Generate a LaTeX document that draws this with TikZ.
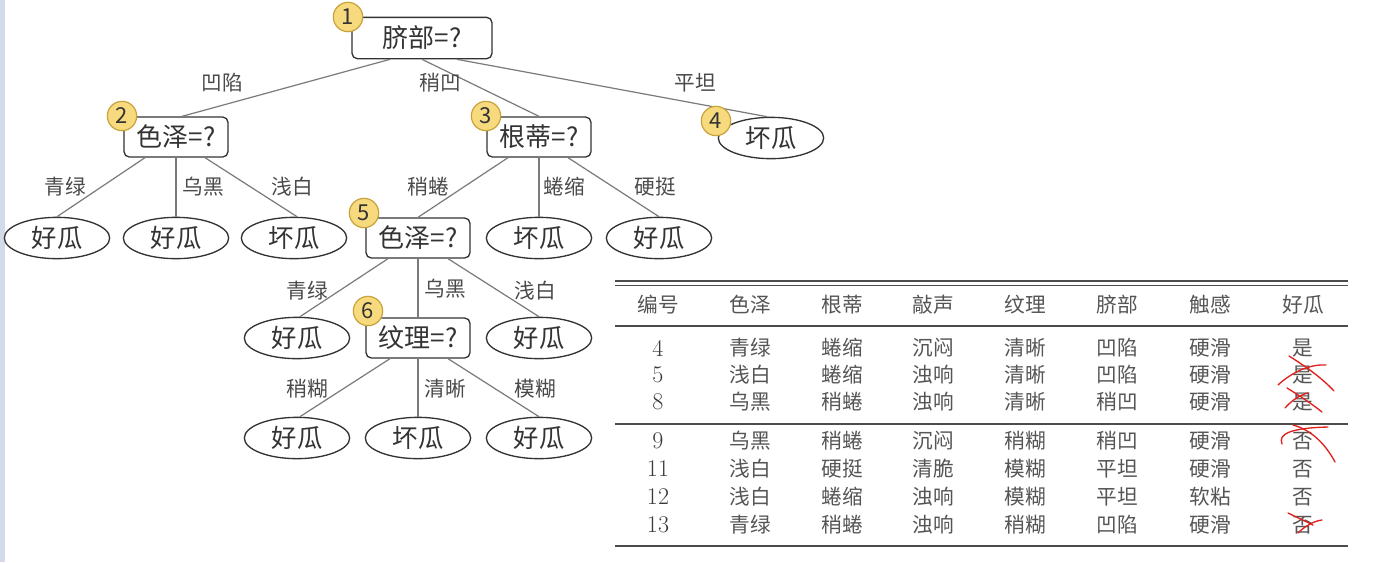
\documentclass[tikz,border=0pt]{standalone}
\usepackage{fontspec}
\newfontfamily\cjk{Noto Sans CJK SC}
\usetikzlibrary{shapes.geometric,calc}
\definecolor{badgefill}{HTML}{F7DA7E}
\definecolor{badgeedge}{HTML}{C8A23A}
\definecolor{edgegray}{HTML}{7A7A7A}
\definecolor{inkdark}{HTML}{333333}
\definecolor{labgray}{HTML}{4A4A4A}
\definecolor{tabgray}{HTML}{555555}
\definecolor{numgray}{HTML}{3A3A3A}
\definecolor{stripblue}{HTML}{D3DBE8}
\definecolor{markred}{HTML}{E0201C}
\begin{document}
\begin{tikzpicture}[x=0.75pt,y=-0.75pt,
  qbox/.style={draw=inkdark,line width=1pt,rounded corners=4pt,fill=white,minimum width=78pt,minimum height=30pt,inner sep=0pt,text=inkdark,font=\cjk\fontsize{19.5}{22}\selectfont},
  leaf/.style={ellipse,draw=inkdark,line width=1pt,fill=white,minimum width=79pt,minimum height=31pt,inner sep=0pt,text=inkdark,font=\cjk\fontsize{19}{22}\selectfont},
  badge/.style={circle,draw=badgeedge,fill=badgefill,line width=0.9pt,minimum size=22pt,inner sep=0pt,text=inkdark,font=\cjk\fontsize{16.5}{18}\selectfont},
  elabel/.style={text=labgray,font=\cjk\fontsize{15.5}{17}\selectfont},
  edge/.style={draw=edgegray,line width=0.9pt},
  cell/.style={text=tabgray,font=\cjk\fontsize{15.5}{18}\selectfont},
  numcell/.style={text=numgray,font=\rmfamily\fontsize{18}{20}\selectfont},
  rule/.style={draw=black!70},
  redstroke/.style={draw=markred,line width=1pt,line cap=round}
]
\fill[white] (0,0) rectangle (1390,562);
\fill[stripblue] (0,0) rectangle (5,562);
\useasboundingbox (0,0) rectangle (1390,562);

% ---------- tree nodes ----------
\node[qbox,minimum width=105pt,minimum height=31pt] (n1) at (422,38) {脐部=?};
\node[qbox] (n2) at (176,137) {色泽=?};
\node[qbox] (n3) at (539,137) {根蒂=?};
\node[leaf] (n4) at (771,138) {坏瓜};
\node[leaf] (l1) at (57,238) {好瓜};
\node[leaf] (l2) at (176,238) {好瓜};
\node[leaf] (l3) at (294,238) {坏瓜};
\node[qbox] (n5) at (418,238) {色泽=?};
\node[leaf] (l4) at (539,238) {坏瓜};
\node[leaf] (l5) at (659,238) {好瓜};
\node[leaf] (l6) at (297,338) {好瓜};
\node[qbox] (n6) at (418,338) {纹理=?};
\node[leaf] (l7) at (539,338) {好瓜};
\node[leaf] (l8) at (297,438) {好瓜};
\node[leaf] (l9) at (418,438) {坏瓜};
\node[leaf] (l10) at (539,438) {好瓜};

% ---------- edges ----------
\draw[edge] ($(n1.south)+(-32,0)$) -- ($(n2.north)+(6,0)$);
\draw[edge] (n1.south) -- (n3.north);
\draw[edge] ($(n1.south)+(35,0)$) -- ($(n4.north)+(-4,0)$);
\draw[edge] ($(n2.south)+(-31,0)$) -- (l1.north);
\draw[edge] (n2.south) -- (l2.north);
\draw[edge] ($(n2.south)+(29,0)$) -- ($(l3.north)+(3,0)$);
\draw[edge] ($(n3.south)+(-31,0)$) -- (n5.north);
\draw[edge] (n3.south) -- (l4.north);
\draw[edge] ($(n3.south)+(29,0)$) -- (l5.north);
\draw[edge] ($(n5.south)+(-30,0)$) -- ($(l6.north)+(3,0)$);
\draw[edge] (n5.south) -- (n6.north);
\draw[edge] ($(n5.south)+(30,0)$) -- (l7.north);
\draw[edge] ($(n6.south)+(-28,0)$) -- ($(l8.north)+(3,0)$);
\draw[edge] (n6.south) -- (l9.north);
\draw[edge] ($(n6.south)+(30,0)$) -- (l10.north);

% ---------- edge labels ----------
\node[elabel] (e1) at (222,83) {凹陷};
\node[elabel] (e2) at (440,83) {稍凹};
\node[elabel] (e3) at (695,83) {平坦};
\node[elabel] (e4) at (65,187) {青绿};
\node[elabel] (e5) at (203,187) {乌黑};
\node[elabel] (e6) at (292,187) {浅白};
\node[elabel] (e7) at (428,187) {稍蜷};
\node[elabel] (e8) at (564,187) {蜷缩};
\node[elabel] (e9) at (655,187) {硬挺};
\node[elabel] (e10) at (307,291) {青绿};
\node[elabel] (e11) at (445,289) {乌黑};
\node[elabel] (e12) at (535,291) {浅白};
\node[elabel] (e13) at (307,389) {稍糊};
\node[elabel] (e14) at (445,389) {清晰};
\node[elabel] (e15) at (535,389) {模糊};

% ---------- badges ----------
\node[badge] (b1) at (348,17) {1};
\node[badge] (b2) at (122,116) {2};
\node[badge] (b3) at (486,116) {3};
\node[badge] (b4) at (716,121) {4};
\node[badge] (b5) at (364,213) {5};
\node[badge] (b6) at (368,311) {6};

% ---------- table ----------
\draw[rule,line width=1.1pt] (615,281) -- (1348,281);
\draw[rule,line width=1.1pt] (615,285.5) -- (1348,285.5);
\draw[rule,line width=1.5pt] (615,326) -- (1348,326);
\draw[rule,line width=1.1pt] (615,424) -- (1348,424);
\draw[rule,line width=1.8pt] (615,546) -- (1348,546);

\foreach \t/\x [count=\c] in {编号/658,色泽/750,根蒂/842,敲声/933,纹理/1025,脐部/1117,触感/1210,好瓜/1303}{
  \node[cell] (h\c) at (\x,305) {\t};
}
\foreach \yy/\n/\a/\b/\cc/\d/\e/\f/\g [count=\r] in {
  348/4/青绿/蜷缩/沉闷/清晰/凹陷/硬滑/是,
  375/5/浅白/蜷缩/浊响/清晰/凹陷/硬滑/是,
  402/8/乌黑/稍蜷/浊响/清晰/稍凹/硬滑/是,
  441/9/乌黑/稍蜷/沉闷/稍糊/稍凹/硬滑/否,
  469/11/浅白/硬挺/清脆/模糊/平坦/硬滑/否,
  497/12/浅白/蜷缩/浊响/模糊/平坦/软粘/否,
  525/13/青绿/稍蜷/浊响/稍糊/凹陷/硬滑/否}{
  \node[numcell] (r\r c1) at (658,\yy) {\n};
  \node[cell] (r\r c2) at (750,\yy) {\a};
  \node[cell] (r\r c3) at (842,\yy) {\b};
  \node[cell] (r\r c4) at (933,\yy) {\cc};
  \node[cell] (r\r c5) at (1025,\yy) {\d};
  \node[cell] (r\r c6) at (1117,\yy) {\e};
  \node[cell] (r\r c7) at (1210,\yy) {\f};
  \node[cell] (r\r c8) at (1303,\yy) {\g};
}

% ---------- red hand marks ----------
\draw[redstroke] (1289,356) .. controls (1305,366) and (1322,378) .. (1334,391);
\draw[redstroke] (1278,385) .. controls (1292,372) and (1310,364) .. (1326,365);
\draw[redstroke] (1287,388) .. controls (1300,396) and (1312,404) .. (1322,412);
\draw[redstroke] (1285,408) .. controls (1292,400) and (1300,395) .. (1308,393);
\draw[redstroke] (1282,444) .. controls (1278,434) and (1290,428) .. (1328,427);
\draw[redstroke] (1293,425) .. controls (1312,430) and (1326,445) .. (1335,462);
\draw[redstroke] (1288,513) .. controls (1296,517) and (1305,521) .. (1313,525);
\draw[redstroke] (1298,533) .. controls (1305,526) and (1314,521) .. (1322,520);
\end{tikzpicture}
\end{document}
